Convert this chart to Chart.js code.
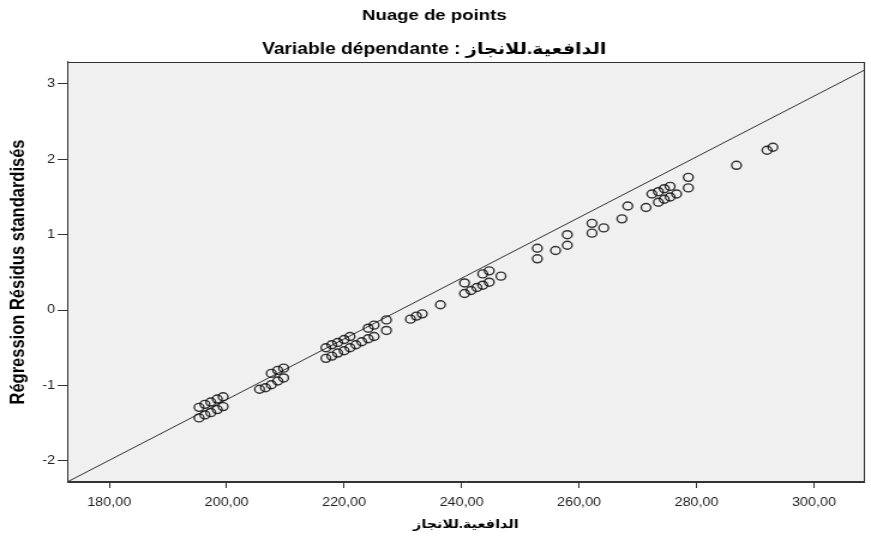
<!DOCTYPE html>
<html>
<head>
<meta charset="utf-8">
<script src="https://cdn.jsdelivr.net/npm/chart.js@4.4.1/dist/chart.umd.min.js"></script>
<style>
  html, body { margin: 0; padding: 0; background: #fff; overflow: hidden; }
  /* the original export is stretched horizontally (~1.2x), so draw narrower and scale */
  #wrap { width: 726px; height: 538px; transform: scaleX(1.1997); transform-origin: 0 0; }
</style>
</head>
<body>
<div id="wrap"><canvas id="c" width="726" height="538"></canvas></div>
<script>
// axis ticks
const xTicks = [180, 200, 220, 240, 260, 280, 300];
const yTicks = [-2, -1, 0, 1, 2, 3];

// dependent variable score (x) and standardized residual (y)
const scoreX = [
  195.3, 196.3, 197.3, 198.4, 199.4, 195.3, 196.3, 197.3, 198.4, 199.4,
  205.6, 206.6, 207.6, 208.7, 209.7, 207.6, 208.7, 209.7,
  216.9, 217.9, 218.9, 220.0, 221.0, 224.1, 225.1, 227.2,
  216.9, 217.9, 218.9, 220.0, 221.0, 222.0, 223.0, 224.1, 225.1, 227.2,
  231.3, 232.3, 233.3, 236.4, 240.5, 240.5, 241.6, 242.6, 243.6, 244.7, 243.6, 244.7, 246.7,
  252.9, 252.9, 256.0, 258.0, 258.0, 262.2, 262.2, 264.2, 267.3, 268.3, 271.4, 272.4, 273.5, 273.5,
  274.5, 274.5, 275.5, 275.5, 276.6, 278.6, 278.6, 286.8, 292.0, 293.0
];
const residY = [
  -1.29, -1.25, -1.22, -1.18, -1.15, -1.43, -1.39, -1.36, -1.32, -1.28,
  -1.05, -1.03, -0.99, -0.94, -0.90, -0.84, -0.80, -0.77,
  -0.50, -0.46, -0.43, -0.39, -0.35, -0.24, -0.20, -0.13,
  -0.64, -0.61, -0.57, -0.54, -0.50, -0.46, -0.42, -0.38, -0.35, -0.27,
  -0.12, -0.08, -0.05, 0.07, 0.36, 0.22, 0.26, 0.30, 0.33, 0.37, 0.48, 0.52, 0.45,
  0.82, 0.68, 0.79, 1.00, 0.86, 1.15, 1.02, 1.09, 1.21, 1.38, 1.36, 1.54, 1.57, 1.43,
  1.61, 1.47, 1.64, 1.50, 1.54, 1.76, 1.62, 1.92, 2.12, 2.16
];

// reference line end points
const refLineX = [172.6, 309.5];
const refLineY = [-2.29, 3.22];

const FONT = "'Liberation Sans', 'DejaVu Sans', Arial, sans-serif";

const plotFrame = {
  id: "plotFrame",
  beforeDatasetsDraw(chart) {
    const a = chart.chartArea, ctx = chart.ctx;
    ctx.save();
    ctx.fillStyle = "#f0f0f0";
    ctx.fillRect(a.left, a.top, a.right - a.left, a.bottom - a.top);
    ctx.restore();
  },
  afterDraw(chart) {
    const a = chart.chartArea, ctx = chart.ctx;
    ctx.save();
    ctx.strokeStyle = "#333";
    ctx.lineWidth = 1;
    ctx.strokeRect(Math.round(a.left) + 0.5, Math.round(a.top) + 0.5,
                   Math.round(a.right - a.left) - 1, Math.round(a.bottom - a.top) - 1);
    ctx.restore();
  },
};

new Chart(document.getElementById("c").getContext("2d"), {
  type: "scatter",
  data: {
    datasets: [
      {
        data: scoreX.map((x, i) => ({ x: x, y: residY[i] })),
        pointStyle: "circle",
        pointRadius: 4,
        borderWidth: 1.4,
        borderColor: "rgba(10,10,10,0.82)",
        backgroundColor: "rgba(0,0,0,0)",
        order: 1,
      },
      {
        type: "line",
        data: refLineX.map((x, i) => ({ x: x, y: refLineY[i] })),
        borderColor: "#333",
        borderWidth: 1,
        pointRadius: 0,
        fill: false,
        clip: 0,
        order: 2,
      },
    ],
  },
  options: {
    responsive: false, animation: false, devicePixelRatio: 1,
    layout: { padding: { top: 0, left: 0, right: 2, bottom: 0 } },
    plugins: {
      legend: { display: false }, tooltip: { enabled: false },
      title: {
        display: true, text: "Nuage de points", color: "#000",
        font: { family: FONT, size: 15.5, weight: "bold" },
        padding: { top: 6, bottom: 5.6 },
      },
      subtitle: {
        display: true, text: "Variable dépendante : الدافعية.للانجاز", color: "#000",
        font: { family: FONT, size: 16, weight: "bold" },
        padding: { top: 10, bottom: 2.6 },
      },
    },
    scales: {
      x: {
        type: "linear", position: "bottom", min: 172.85, max: 308.6,
        afterBuildTicks: s => { s.ticks = xTicks.map(v => ({ value: v })); },
        afterFit: s => { s.height = 56; },
        ticks: { color: "#222", font: { family: FONT, size: 12 }, padding: 7, maxRotation: 0, autoSkip: false,
                 callback: v => v.toFixed(2).replace(".", ",") },
        grid: { drawOnChartArea: false, drawTicks: true, tickLength: 6, color: "#333" },
        border: { display: true, color: "#333", width: 1 },
        title: { display: true, text: "الدافعية.للانجاز", color: "#000",
                 font: { family: FONT, size: 12, weight: "bold" }, padding: { top: 4, bottom: 6 } },
      },
      y: {
        type: "linear", min: -2.28, max: 3.29,
        afterBuildTicks: s => { s.ticks = yTicks.map(v => ({ value: v })); },
        afterFit: s => { s.width = 56; },
        ticks: { color: "#222", font: { family: FONT, size: 12 }, padding: 2, callback: v => String(v) },
        grid: { drawOnChartArea: false, drawTicks: true, tickLength: 8, color: "#333" },
        border: { display: true, color: "#333", width: 1 },
        title: { display: true, text: "Régression Résidus standardisés", color: "#000",
                 font: { family: FONT, size: 16.5, weight: "bold" },
                 padding: { top: 6, bottom: 0 } },
      },
    },
  },
  plugins: [plotFrame],
});
</script>
</body>
</html>
